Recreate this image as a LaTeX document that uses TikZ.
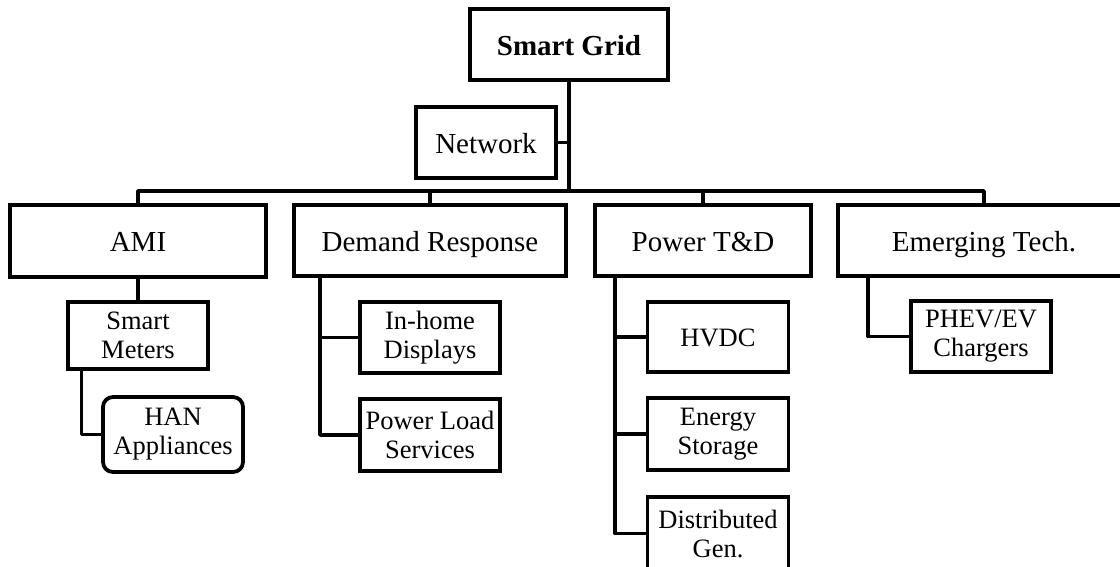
\documentclass[tikz,border=0pt]{standalone}
\usepackage{fontspec}
\setmainfont{Liberation Serif}
\begin{document}
\begin{tikzpicture}[x=1pt,y=-1pt,
  box/.style={draw, line width=3.8pt, inner sep=0pt, align=center,
    font=\fontsize{29}{30}\selectfont},
  sub/.style={box, font=\fontsize{26.5}{29}\selectfont},
  oneline/.style={text height=23.5pt, text depth=2.5pt},
  onesub/.style={text height=21pt, text depth=2.5pt},
  conn/.style={line width=3.4pt, line join=round}]
\begin{scope}
\clip (0,0) rectangle (1120,566);
\fill[white] (0,0) rectangle (1120,566);
% top
\node[box, oneline, minimum width=198pt, minimum height=71pt] (sg) at (569,44.5) {\textbf{Smart Grid}};
\node[box, oneline, minimum width=140pt, minimum height=71pt] (nw) at (486,142.5) {Network};
% level 1
\node[box, oneline, minimum width=256pt, minimum height=72pt] (ami) at (138,241) {AMI};
\node[box, oneline, minimum width=272pt, minimum height=71pt] (dr) at (430,240.5) {Demand Response};
\node[box, oneline, minimum width=216pt, minimum height=71pt] (ptd) at (703,240.5) {Power T\&D};
\node[box, oneline, minimum width=292pt, minimum height=71pt] (et) at (984,240.5) {Emerging Tech.};
% level 2
\node[sub, minimum width=140pt, minimum height=67pt] (sm) at (138,335.5) {Smart\\Meters};
\node[sub, minimum width=140pt, minimum height=75pt, rounded corners=10pt] (han) at (173,434.5) {HAN\\Appliances};
\node[sub, minimum width=140pt, minimum height=71pt] (ih) at (430,337.5) {In-home\\Displays};
\node[sub, minimum width=140pt, minimum height=72pt] (pl) at (430,435) {Power Load\\Services};
\node[sub, onesub, minimum width=141pt, minimum height=70pt] (hv) at (718,337) {HVDC};
\node[sub, minimum width=141pt, minimum height=72pt] (es) at (718,434) {Energy\\Storage};
\node[sub, minimum width=141pt, minimum height=73pt] (dg) at (718,533.5) {Distributed\\Gen.};
\node[sub, minimum width=140pt, minimum height=71pt] (ph) at (981,336.5) {PHEV/EV\\Chargers};
% connectors
\coordinate (bus) at (0,191);
\draw[conn] (sg.south) -- (sg.south |- bus);
\draw[conn] (nw.east) -- (nw.east -| sg.south);
\draw[conn] (ami.north) -- (ami.north |- bus) -- (et.north |- bus) -- (et.north);
\draw[conn] (dr.north) -- (dr.north |- bus);
\draw[conn] (ptd.north) -- (ptd.north |- bus);
\draw[conn] (ami.south) -- (ami.south |- sm.north);
% Smart Meters -> HAN
\coordinate (smx) at (81.5,0);
\draw[conn] (smx |- sm.south) -- (smx |- han.west) -- (han.west);
% Demand Response
\coordinate (drx) at (320,0);
\draw[conn] (drx |- dr.south) -- (drx |- pl.west) -- (pl.west);
\draw[conn] (drx |- ih.west) -- (ih.west);
% Power T&D
\coordinate (ptx) at (615,0);
\draw[conn] (ptx |- ptd.south) -- (ptx |- dg.west) -- (dg.west);
\draw[conn] (ptx |- hv.west) -- (hv.west);
\draw[conn] (ptx |- es.west) -- (es.west);
% Emerging Tech
\coordinate (etx) at (868,0);
\draw[conn] (etx |- et.south) -- (etx |- ph.west) -- (ph.west);
\end{scope}
\pgfresetboundingbox
\useasboundingbox (0,0) rectangle (1120,566);
\end{tikzpicture}
\end{document}
